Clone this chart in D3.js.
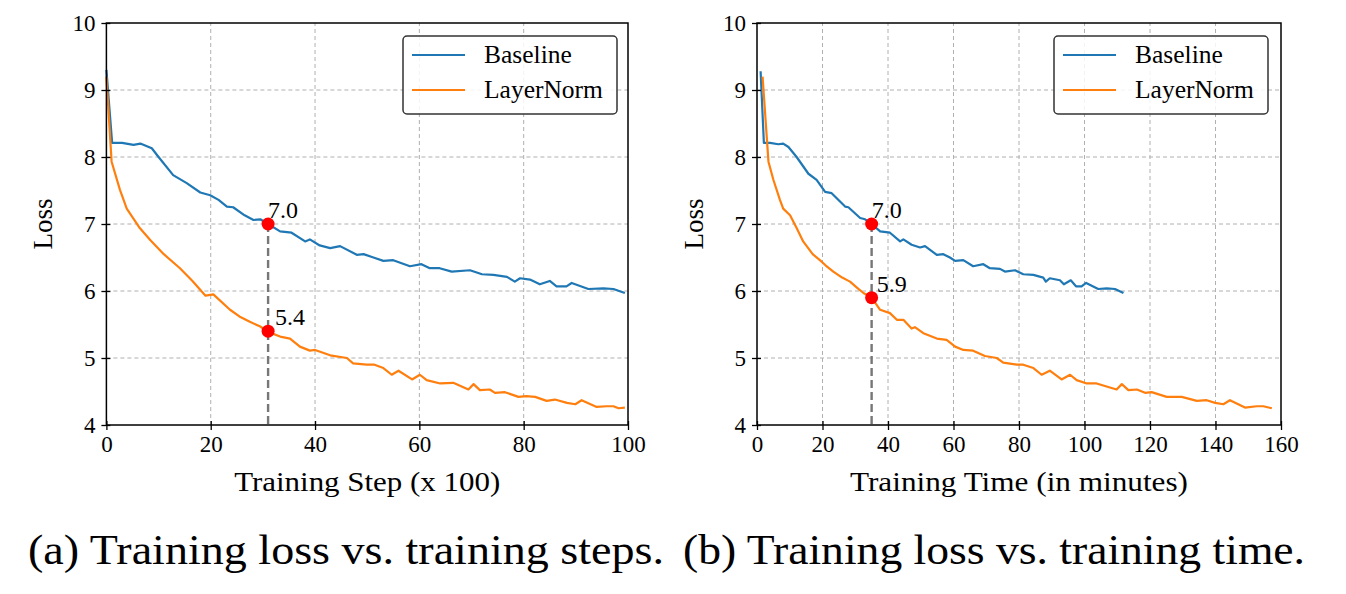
<!DOCTYPE html>
<html>
<head>
<meta charset="utf-8">
<script src="https://cdn.jsdelivr.net/npm/d3@7"></script>
<style>
  body { margin: 0; background: #fff; }
  svg text { font-family: "Liberation Serif", "Times New Roman", serif; fill: #000; }
</style>
</head>
<body>
<svg id="chart"></svg>
<script>
// ---- data ----
const seriesNames = ["Baseline", "LayerNorm"];
const yTicks = [4, 5, 6, 7, 8, 9, 10];
const stepTicks = [0, 20, 40, 60, 80, 100];
const timeTicks = [0, 20, 40, 60, 80, 100, 120, 140, 160];

// (a) loss vs training step (x 100)
const stepBaseX = [0, 1.1, 3, 5.2, 6.5, 8.7, 10, 12.8, 15.4, 18, 19.9, 21.5, 23.1, 24.3, 26.5, 28.2, 29.5, 31, 33.3, 35.5, 38.1, 39, 40.9, 42.9, 44.8, 48, 49.3, 51.2, 53.1, 55, 58.2, 60.4, 62, 63.9, 66.2, 69.7, 72, 74.2, 76.8, 78.3, 79.3, 81.2, 83.1, 85, 86.3, 88.2, 89.2, 92.4, 95.3, 97.2, 99.4];
const stepBaseY = [9.30, 8.21, 8.21, 8.18, 8.20, 8.13, 8.00, 7.73, 7.61, 7.47, 7.43, 7.36, 7.26, 7.25, 7.13, 7.06, 7.07, 7.00, 6.89, 6.87, 6.74, 6.77, 6.68, 6.64, 6.67, 6.54, 6.55, 6.50, 6.45, 6.46, 6.37, 6.40, 6.34, 6.34, 6.29, 6.31, 6.25, 6.24, 6.21, 6.14, 6.19, 6.17, 6.10, 6.15, 6.07, 6.07, 6.12, 6.03, 6.04, 6.03, 5.97];
const stepLnX = [0, 1, 2.6, 3.9, 6.4, 8.4, 11, 14.1, 16.5, 19, 20.5, 23.7, 25.5, 27.5, 29.5, 31, 33.3, 35.2, 37.1, 39, 40, 42.9, 46.1, 47.3, 49.9, 51.4, 53.1, 54.7, 56, 58.6, 60.1, 61.4, 64, 66.5, 69.4, 70.4, 71.6, 73.5, 74.5, 76.4, 79, 80.5, 82.2, 84.4, 86, 88.3, 89.9, 91.1, 94, 95.9, 97.2, 98.2, 99.4];
const stepLnY = [9.20, 7.93, 7.51, 7.23, 6.94, 6.76, 6.55, 6.34, 6.15, 5.93, 5.95, 5.72, 5.62, 5.54, 5.47, 5.39, 5.32, 5.29, 5.17, 5.11, 5.12, 5.04, 5.00, 4.92, 4.90, 4.90, 4.85, 4.75, 4.81, 4.68, 4.75, 4.67, 4.62, 4.63, 4.53, 4.61, 4.52, 4.53, 4.48, 4.49, 4.42, 4.43, 4.42, 4.36, 4.38, 4.33, 4.31, 4.37, 4.27, 4.28, 4.28, 4.25, 4.26];
const stepMarkX = 31;
const stepMarkY = [7.0, 5.4];

// (b) loss vs training time (minutes)
const timeBaseX = [1.1, 2.1, 4, 6.5, 8, 9.6, 12.1, 15.7, 18.2, 20.8, 22.8, 26.9, 27.9, 31.5, 33, 35, 37.6, 40.6, 43.7, 44.7, 47.2, 49.8, 51.3, 54.9, 56.9, 58.9, 60.5, 63, 66, 69.1, 71.1, 74.2, 75.7, 78.8, 81.3, 84.4, 87.4, 88.2, 89.4, 92.5, 93.7, 95.8, 97.4, 99.1, 100.5, 104.2, 106.8, 109.3, 111.9];
const timeBaseY = [9.28, 8.21, 8.21, 8.19, 8.20, 8.15, 8.00, 7.75, 7.66, 7.48, 7.46, 7.26, 7.25, 7.09, 7.07, 7.00, 6.89, 6.87, 6.74, 6.77, 6.69, 6.65, 6.67, 6.54, 6.55, 6.50, 6.45, 6.46, 6.37, 6.40, 6.34, 6.33, 6.29, 6.31, 6.25, 6.24, 6.20, 6.14, 6.19, 6.16, 6.10, 6.16, 6.07, 6.07, 6.12, 6.03, 6.04, 6.03, 5.97];
const timeLnX = [1.7, 3.5, 5, 7, 8, 10.1, 12.1, 14.1, 17, 19.2, 21, 23.3, 26, 28.4, 30.5, 32.5, 35, 37.6, 40.6, 42.7, 44.7, 47.2, 48.2, 50.8, 54.9, 57.9, 60.5, 63, 66, 69.6, 73.2, 75.2, 79.3, 81.3, 84.4, 86.9, 89.4, 93, 95.6, 97.6, 100.7, 103.7, 109.8, 111.4, 113.4, 116, 118.5, 120.5, 125.1, 129.7, 134.3, 137.3, 139.9, 142.4, 144.4, 149, 152.6, 154.6, 157.2];
const timeLnY = [9.20, 7.93, 7.66, 7.36, 7.23, 7.13, 6.94, 6.74, 6.55, 6.46, 6.38, 6.29, 6.20, 6.14, 6.05, 5.97, 5.90, 5.72, 5.67, 5.57, 5.57, 5.44, 5.46, 5.37, 5.29, 5.27, 5.17, 5.12, 5.11, 5.03, 5.00, 4.93, 4.90, 4.90, 4.85, 4.75, 4.81, 4.68, 4.75, 4.67, 4.62, 4.62, 4.53, 4.61, 4.52, 4.53, 4.48, 4.49, 4.42, 4.42, 4.36, 4.37, 4.33, 4.31, 4.37, 4.26, 4.28, 4.28, 4.25];
const timeMarkX = 35;
const timeMarkY = [7.0, 5.9];

const width = 1346, height = 594;
const colors = ["#1f77b4", "#ff7f0e"];

const svg = d3.select("#chart")
  .attr("width", width)
  .attr("height", height)
  .attr("viewBox", [0, 0, width, height]);

function panel(opts) {
  const x = d3.scaleLinear().domain(opts.xDomain).range([opts.left, opts.right]);
  const y = d3.scaleLinear().domain([4, 10]).range([425, 23]);
  const g = svg.append("g");

  // grid
  g.append("g").selectAll("line").data(opts.xTicks.slice(1, -1)).join("line")
    .attr("x1", d => x(d)).attr("x2", d => x(d))
    .attr("y1", y(4)).attr("y2", y(10))
    .attr("stroke", "#b0b0b0").attr("stroke-width", 1).attr("stroke-dasharray", "4,3");
  g.append("g").selectAll("line").data(yTicks.slice(1, -1)).join("line")
    .attr("x1", x.range()[0]).attr("x2", x.range()[1])
    .attr("y1", d => y(d)).attr("y2", d => y(d))
    .attr("stroke", "#b0b0b0").attr("stroke-width", 1).attr("stroke-dasharray", "4,3");

  // curves
  const line = d3.line().x(d => x(d[0])).y(d => y(d[1]));
  opts.series.forEach((s, i) => {
    g.append("path")
      .datum(d3.zip(s.x, s.y))
      .attr("d", line)
      .attr("fill", "none")
      .attr("stroke", colors[i])
      .attr("stroke-width", 2.2)
      .attr("stroke-linejoin", "round");
  });

  // vertical marker line
  g.append("line")
    .attr("x1", x(opts.markX)).attr("x2", x(opts.markX))
    .attr("y1", y(d3.max(opts.markY))).attr("y2", y(4))
    .attr("stroke", "#777").attr("stroke-width", 2.4).attr("stroke-dasharray", "8,4");

  g.append("g").selectAll("circle").data(opts.markY).join("circle")
    .attr("cx", x(opts.markX)).attr("cy", d => y(d))
    .attr("r", 6.5).attr("fill", "red");

  g.append("g").selectAll("text").data(opts.markY).join("text")
    .attr("x", (d, i) => x(opts.markX) + opts.labelDx[i])
    .attr("y", d => y(d) - 6)
    .attr("font-size", 24)
    .text(d => d.toFixed(1));

  // axes
  const xAxis = g.append("g")
    .attr("transform", `translate(0,${y(4)})`)
    .call(d3.axisBottom(x).tickValues(opts.xTicks).tickSize(5).tickPadding(6).tickFormat(d3.format("d")));
  const yAxis = g.append("g")
    .attr("transform", `translate(${x.range()[0]},0)`)
    .call(d3.axisLeft(y).tickValues(yTicks).tickSize(5).tickPadding(6).tickFormat(d3.format("d")));
  [xAxis, yAxis].forEach(a => {
    a.select(".domain").remove();
    a.selectAll(".tick text").attr("font-size", 23).attr("font-family", null);
    a.selectAll(".tick line").attr("stroke", "#000").attr("stroke-width", 1.3);
  });
  xAxis.selectAll(".tick line").attr("y1", -4);
  yAxis.selectAll(".tick line").attr("x1", 4);

  g.append("rect")
    .attr("x", x.range()[0]).attr("y", y(10))
    .attr("width", x.range()[1] - x.range()[0]).attr("height", y(4) - y(10))
    .attr("fill", "none").attr("stroke", "#000").attr("stroke-width", 1.5);

  // axis titles
  g.append("text")
    .attr("x", (x.range()[0] + x.range()[1]) / 2).attr("y", 491)
    .attr("text-anchor", "middle").attr("font-size", 28)
    .attr("textLength", opts.xLabelWidth).attr("lengthAdjust", "spacingAndGlyphs")
    .text(opts.xLabel);
  g.append("text")
    .attr("transform", `translate(${x.range()[0] - 54},${y(7)}) rotate(-90)`)
    .attr("text-anchor", "middle").attr("font-size", 27)
    .text("Loss");

  // legend
  const lg = g.append("g").attr("transform", `translate(${opts.legendX},36)`);
  lg.append("rect")
    .attr("width", 214).attr("height", 78).attr("rx", 4)
    .attr("fill", "#fff").attr("fill-opacity", 0.85)
    .attr("stroke", "#333").attr("stroke-width", 1.5);
  seriesNames.forEach((name, i) => {
    const cy = 19 + i * 35;
    lg.append("line").attr("x1", 9).attr("x2", 62).attr("y1", cy).attr("y2", cy)
      .attr("stroke", colors[i]).attr("stroke-width", 2.2);
    lg.append("text").attr("x", 81).attr("y", cy + 8).attr("font-size", 25.5).text(name);
  });

  // caption
  svg.append("text")
    .attr("x", opts.captionX).attr("y", 564)
    .attr("font-size", 43)
    .attr("textLength", opts.captionWidth).attr("lengthAdjust", "spacingAndGlyphs")
    .text(opts.caption);
}

panel({
  xDomain: [0, 100], left: 106.4, right: 628, xTicks: stepTicks,
  series: [{ x: stepBaseX, y: stepBaseY }, { x: stepLnX, y: stepLnY }],
  markX: stepMarkX, markY: stepMarkY, labelDx: [0, 7],
  xLabel: "Training Step (x 100)", xLabelWidth: 266, legendX: 403,
  caption: "(a)  Training loss vs. training steps.", captionX: 28, captionWidth: 636
});
panel({
  xDomain: [0, 160], left: 757, right: 1281, xTicks: timeTicks,
  series: [{ x: timeBaseX, y: timeBaseY }, { x: timeLnX, y: timeLnY }],
  markX: timeMarkX, markY: timeMarkY, labelDx: [0, 5],
  xLabel: "Training Time (in minutes)", xLabelWidth: 338, legendX: 1054,
  caption: "(b)  Training loss vs. training time.", captionX: 683, captionWidth: 622
});
</script>
</body>
</html>
